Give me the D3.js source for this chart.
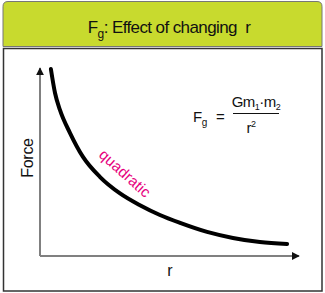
<!DOCTYPE html>
<html><head><meta charset="utf-8">
<script src="https://cdn.jsdelivr.net/npm/d3@7"></script>
<style>body{margin:0;background:#fff}svg{display:block;font-family:"Liberation Sans",Arial,sans-serif}text{white-space:pre}</style>
</head><body>
<script>
const rValues = [0.42,0.58,0.77,1.16,1.66,2.32,3.09,3.86,4.63,5.41,6.45,7.45,8.49,9.54];
const forceValues = [9.95,8.67,7.77,6.54,5.27,4.20,3.33,2.70,2.18,1.76,1.28,0.96,0.74,0.64];
const titleText = ["F","g",": Effect of changing  r"];
const xLabel = "r", yLabel = "Force", curveLabel = "quadratic";

const W=325,H=293;
const svg=d3.select("body").append("svg").attr("width",W).attr("height",H);
const defs=svg.append("defs");
defs.append("marker").attr("id","arr").attr("viewBox","0 0 10 10").attr("refX",9).attr("refY",5)
  .attr("markerWidth",4).attr("markerHeight",4).attr("orient","auto-start-reverse")
  .append("path").attr("d","M0,0L10,5L0,10z").attr("fill","#111");

// header
const hx=3,hy=1.5,hw=319,hh=45,rr=5;
svg.append("path").attr("d",`M${hx},${hy+hh}V${hy+rr}Q${hx},${hy} ${hx+rr},${hy}H${hx+hw-rr}Q${hx+hw},${hy} ${hx+hw},${hy+rr}V${hy+hh}Z`)
  .attr("fill","#c8da2e").attr("stroke","#777").attr("stroke-width",1);
const t=svg.append("text").attr("x",169).attr("y",33).attr("text-anchor","middle").attr("font-size",17)
  .attr("letter-spacing",-0.6).attr("fill","#111");
t.append("tspan").text(titleText[0]);
t.append("tspan").text(titleText[1]).attr("font-size",12).attr("dy",5);
t.append("tspan").text(titleText[2]).attr("dy",-5);

// content box
svg.append("rect").attr("x",3.5).attr("y",48.5).attr("width",318.5).attr("height",242.5)
  .attr("fill","#fff").attr("stroke","#333").attr("stroke-width",1.5);

const x=d3.scaleLinear().domain([0,10]).range([40,299]);
const y=d3.scaleLinear().domain([0,10]).range([256,68]);

// axes
svg.append("line").attr("x1",x(0)).attr("y1",y(0)).attr("x2",x(0)).attr("y2",y(10))
  .attr("stroke","#808080").attr("stroke-width",2).attr("marker-end","url(#arr)");
svg.append("line").attr("x1",x(0)).attr("y1",y(0)).attr("x2",x(10)).attr("y2",y(0))
  .attr("stroke","#808080").attr("stroke-width",2).attr("marker-end","url(#arr)");

// curve
const line=d3.line().x((d,i)=>x(rValues[i])).y((d,i)=>y(forceValues[i])).curve(d3.curveMonotoneX);
svg.append("path").attr("d",line(rValues)).attr("fill","none").attr("stroke","#000")
  .attr("stroke-width",4).attr("stroke-linecap","round");

// labels
svg.append("text").attr("x",170).attr("y",276).attr("text-anchor","middle").attr("font-size",16).attr("fill","#111").text(xLabel);
svg.append("text").attr("transform","translate(33,158) rotate(-90)").attr("text-anchor","middle").attr("font-size",16).attr("letter-spacing",-0.3).attr("fill","#111").text(yLabel);
svg.append("text").attr("transform","translate(98,156) rotate(42)").attr("font-size",15).attr("letter-spacing",0.2).attr("fill","#e6007e").text(curveLabel);

// formula
const f=svg.append("g").attr("font-size",15).attr("fill","#111").attr("letter-spacing",-0.5);
const ft=f.append("text").attr("x",193).attr("y",122);
ft.append("tspan").text("F");
ft.append("tspan").text("g").attr("font-size",10).attr("dy",4);
ft.append("tspan").text("  =").attr("dy",-4).attr("dx",2);
const nt=f.append("text").attr("x",256).attr("y",107).attr("text-anchor","middle");
nt.append("tspan").text("Gm");
nt.append("tspan").text("1").attr("font-size",9).attr("dy",3);
nt.append("tspan").text("·m").attr("dy",-3);
nt.append("tspan").text("2").attr("font-size",9).attr("dy",3);
svg.append("line").attr("x1",233).attr("x2",279).attr("y1",113.5).attr("y2",113.5).attr("stroke","#111").attr("stroke-width",1);
const dt=f.append("text").attr("x",251).attr("y",133).attr("text-anchor","middle");
dt.append("tspan").text("r");
dt.append("tspan").text("2").attr("font-size",9).attr("dy",-6);
</script>
</body></html>
